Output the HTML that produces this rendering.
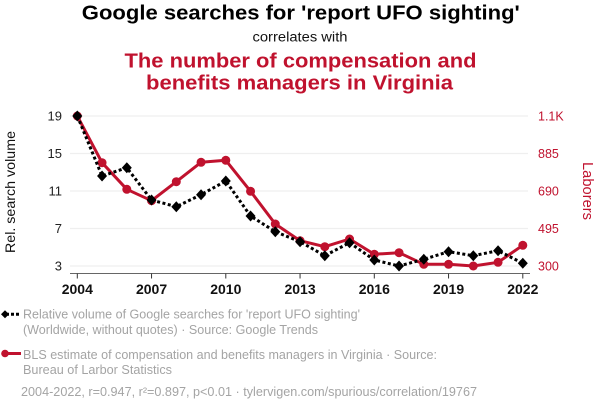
<!DOCTYPE html>
<html><head><meta charset="utf-8"><style>
html,body{margin:0;padding:0;background:#fff;}
svg{display:block;font-family:"Liberation Sans",Arial,sans-serif;}
</style></head><body>
<svg width="600" height="414" viewBox="0 0 600 414" xmlns="http://www.w3.org/2000/svg">
<rect width="600" height="414" fill="#fff"/>
<!-- titles -->
<text x="300.8" y="19.5" text-anchor="middle" font-size="20" font-weight="bold" fill="#000" textLength="438" lengthAdjust="spacingAndGlyphs">Google searches for 'report UFO sighting'</text>
<text x="300" y="41.5" text-anchor="middle" font-size="13.5" fill="#111" textLength="95" lengthAdjust="spacingAndGlyphs">correlates with</text>
<text x="300.5" y="67.5" text-anchor="middle" font-size="20.5" font-weight="bold" fill="#c0122e" textLength="352" lengthAdjust="spacingAndGlyphs">The number of compensation and</text>
<text x="299.5" y="89.5" text-anchor="middle" font-size="20.5" font-weight="bold" fill="#c0122e" textLength="307" lengthAdjust="spacingAndGlyphs">benefits managers in Virginia</text>
<!-- grid -->
<g stroke="#efefef" stroke-width="1.2">
<line x1="70" x2="528" y1="116" y2="116"/>
<line x1="70" x2="528" y1="153.5" y2="153.5"/>
<line x1="70" x2="528" y1="191" y2="191"/>
<line x1="70" x2="528" y1="228.5" y2="228.5"/>
<line x1="70" x2="528" y1="266" y2="266"/>
</g>
<!-- x axis -->
<line x1="70" x2="530" y1="273.5" y2="273.5" stroke="#666" stroke-width="1"/>
<g stroke="#333" stroke-width="1">
<line x1="77.3" x2="77.3" y1="273.5" y2="278.5"/>
<line x1="151.55" x2="151.55" y1="273.5" y2="278.5"/>
<line x1="225.8" x2="225.8" y1="273.5" y2="278.5"/>
<line x1="300.05" x2="300.05" y1="273.5" y2="278.5"/>
<line x1="374.3" x2="374.3" y1="273.5" y2="278.5"/>
<line x1="448.55" x2="448.55" y1="273.5" y2="278.5"/>
<line x1="522.8" x2="522.8" y1="273.5" y2="278.5"/>
</g>
<g font-size="14" font-weight="bold" fill="#111" text-anchor="middle">
<text x="77.3" y="294">2004</text>
<text x="151.55" y="294">2007</text>
<text x="225.8" y="294">2010</text>
<text x="300.05" y="294">2013</text>
<text x="374.3" y="294">2016</text>
<text x="448.55" y="294">2019</text>
<text x="522.8" y="294">2022</text>
</g>
<!-- left y labels -->
<g font-size="13" fill="#222" text-anchor="end">
<text x="62" y="120.5">19</text>
<text x="62" y="158">15</text>
<text x="62" y="195.5">11</text>
<text x="62" y="233">7</text>
<text x="62" y="270.5">3</text>
</g>
<!-- right y labels -->
<g font-size="12.5" fill="#c0122e" text-anchor="start">
<text x="538" y="120.5">1.1K</text>
<text x="538" y="158">885</text>
<text x="538" y="195.5">690</text>
<text x="538" y="233">495</text>
<text x="538" y="270.5">300</text>
</g>
<text transform="translate(15,192) rotate(-90)" text-anchor="middle" font-size="14" fill="#111" textLength="122" lengthAdjust="spacingAndGlyphs">Rel. search volume</text>
<text transform="translate(583,191) rotate(90)" text-anchor="middle" font-size="15" fill="#c0122e" textLength="58" lengthAdjust="spacingAndGlyphs">Laborers</text>
<!-- red series -->
<polyline fill="none" stroke="#c0122e" stroke-width="3" stroke-linejoin="round" points="77.3,116 102.05,162.7 126.8,189.3 151.55,200.7 176.3,181.7 201.05,162.3 225.8,160.3 250.55,191.3 275.3,224 300.05,240.7 324.8,246.7 349.55,239 374.3,254.3 399.05,252.7 423.8,264.3 448.55,264.3 473.3,266 498.05,262.3 522.8,245.3"/>
<g fill="#c0122e">
<circle cx="77.3" cy="116" r="4.5"/><circle cx="102.05" cy="162.7" r="4.5"/><circle cx="126.8" cy="189.3" r="4.5"/><circle cx="151.55" cy="200.7" r="4.5"/><circle cx="176.3" cy="181.7" r="4.5"/><circle cx="201.05" cy="162.3" r="4.5"/><circle cx="225.8" cy="160.3" r="4.5"/><circle cx="250.55" cy="191.3" r="4.5"/><circle cx="275.3" cy="224" r="4.5"/><circle cx="300.05" cy="240.7" r="4.5"/><circle cx="324.8" cy="246.7" r="4.5"/><circle cx="349.55" cy="239" r="4.5"/><circle cx="374.3" cy="254.3" r="4.5"/><circle cx="399.05" cy="252.7" r="4.5"/><circle cx="423.8" cy="264.3" r="4.5"/><circle cx="448.55" cy="264.3" r="4.5"/><circle cx="473.3" cy="266" r="4.5"/><circle cx="498.05" cy="262.3" r="4.5"/><circle cx="522.8" cy="245.3" r="4.5"/>
</g>
<!-- black series -->
<polyline fill="none" stroke="#000" stroke-width="3" stroke-dasharray="3,2.5" points="77.3,116 102.05,176 126.8,167.7 151.55,200 176.3,206.7 201.05,194.7 225.8,181 250.55,216 275.3,231.7 300.05,241.7 324.8,255.7 349.55,242.7 374.3,260 399.05,266 423.8,259.3 448.55,251.7 473.3,255.7 498.05,250.7 522.8,263.3"/>
<g fill="#000">
<path d="M77.3,110.5 l5,5.5 l-5,5.5 l-5,-5.5z"/>
<path d="M102.05,170.5 l5,5.5 l-5,5.5 l-5,-5.5z"/>
<path d="M126.8,162.2 l5,5.5 l-5,5.5 l-5,-5.5z"/>
<path d="M151.55,194.5 l5,5.5 l-5,5.5 l-5,-5.5z"/>
<path d="M176.3,201.2 l5,5.5 l-5,5.5 l-5,-5.5z"/>
<path d="M201.05,189.2 l5,5.5 l-5,5.5 l-5,-5.5z"/>
<path d="M225.8,175.5 l5,5.5 l-5,5.5 l-5,-5.5z"/>
<path d="M250.55,210.5 l5,5.5 l-5,5.5 l-5,-5.5z"/>
<path d="M275.3,226.2 l5,5.5 l-5,5.5 l-5,-5.5z"/>
<path d="M300.05,236.2 l5,5.5 l-5,5.5 l-5,-5.5z"/>
<path d="M324.8,250.2 l5,5.5 l-5,5.5 l-5,-5.5z"/>
<path d="M349.55,237.2 l5,5.5 l-5,5.5 l-5,-5.5z"/>
<path d="M374.3,254.5 l5,5.5 l-5,5.5 l-5,-5.5z"/>
<path d="M399.05,260.5 l5,5.5 l-5,5.5 l-5,-5.5z"/>
<path d="M423.8,253.8 l5,5.5 l-5,5.5 l-5,-5.5z"/>
<path d="M448.55,246.2 l5,5.5 l-5,5.5 l-5,-5.5z"/>
<path d="M473.3,250.2 l5,5.5 l-5,5.5 l-5,-5.5z"/>
<path d="M498.05,245.2 l5,5.5 l-5,5.5 l-5,-5.5z"/>
<path d="M522.8,257.8 l5,5.5 l-5,5.5 l-5,-5.5z"/>
</g>
<!-- legend -->
<line x1="6" x2="21" y1="314.3" y2="314.3" stroke="#000" stroke-width="3" stroke-dasharray="3,2"/>
<path d="M5,310.3 l4,4 l-4,4 l-4,-4z" fill="#000"/>
<line x1="5" x2="21" y1="353.5" y2="353.5" stroke="#c0122e" stroke-width="3"/>
<circle cx="5" cy="353.5" r="3.8" fill="#c0122e"/>
<g font-size="13" fill="#a4a4a4">
<text x="23" y="318.5" textLength="337" lengthAdjust="spacingAndGlyphs">Relative volume of Google searches for 'report UFO sighting'</text>
<text x="23" y="334" textLength="295" lengthAdjust="spacingAndGlyphs">(Worldwide, without quotes) · Source: Google Trends</text>
<text x="23" y="359.2" textLength="414" lengthAdjust="spacingAndGlyphs">BLS estimate of compensation and benefits managers in Virginia · Source:</text>
<text x="23" y="374.2" textLength="149" lengthAdjust="spacingAndGlyphs">Bureau of Larbor Statistics</text>
<text x="21" y="396" textLength="456" lengthAdjust="spacingAndGlyphs">2004-2022, r=0.947, r²=0.897, p&lt;0.01 · tylervigen.com/spurious/correlation/19767</text>
</g>
</svg>
</body></html>
